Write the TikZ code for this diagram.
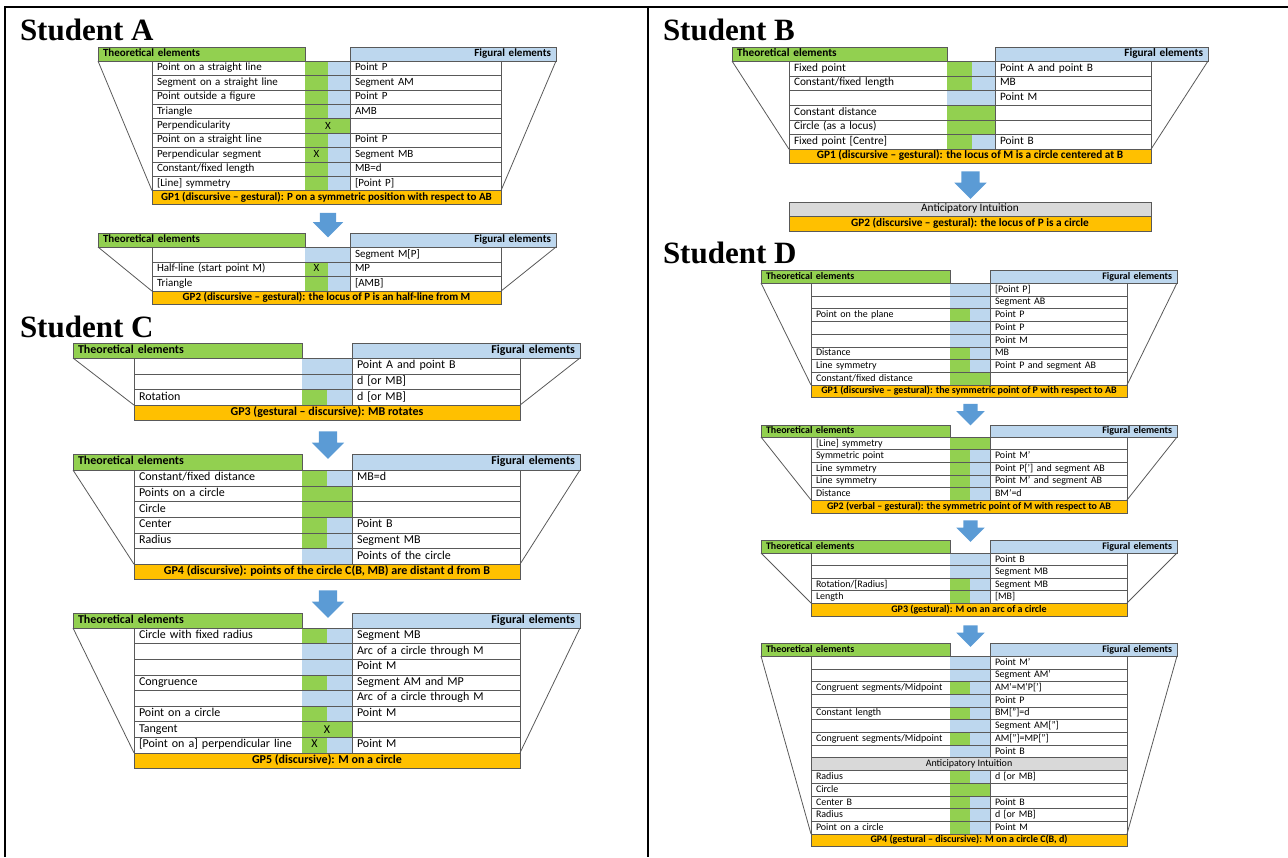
\documentclass[tikz,border=0pt]{standalone}
\usepackage{fontspec}
\setmainfont{Carlito}
\newfontfamily\titlefont{Liberation Serif}
\usetikzlibrary{positioning,shapes.arrows}
\definecolor{grn}{HTML}{92D050}
\definecolor{blu}{HTML}{BDD7EE}
\definecolor{gporange}{HTML}{FFC000}
\definecolor{aigray}{HTML}{D9D9D9}
\definecolor{arrowblue}{HTML}{5B9BD5}
\definecolor{cellline}{HTML}{595959}

\begin{document}
\begin{tikzpicture}[x=1pt, y=-1pt, outer sep=0pt, node distance=0pt,
    title/.style={anchor=base west, inner sep=0pt, font=\titlefont\fontsize{31}{34}\selectfont\bfseries},
    cell/.style={draw=cellline, fill=white, inner xsep=5pt, inner ysep=0pt, text width=#1pt, align=left, text height=8pt, text depth=2.5pt},
    half/.style={draw=none, fill=#1, inner sep=0pt, text height=8pt, text depth=2.5pt},
    thhead/.style={draw=cellline, fill=grn, anchor=north west, inner xsep=5pt, inner ysep=0pt, text width=#1pt, align=left, text height=8pt, text depth=2.5pt, execute at begin node=\bfseries},
    fghead/.style={draw=cellline, fill=blu, anchor=north east, inner xsep=5pt, inner ysep=0pt, text width=#1pt, align=right, text height=8pt, text depth=2.5pt, execute at begin node=\bfseries},
    gpbar/.style={draw=cellline, fill=gporange, anchor=north west, inner sep=0pt, minimum width=#1pt, text height=8pt, text depth=2.5pt, execute at begin node=\bfseries},
    intuition/.style={draw=cellline, fill=aigray, anchor=north west, inner sep=0pt, minimum width=#1pt, text height=8pt, text depth=2.5pt},
    downarrow/.style={single arrow, shape border rotate=270, draw=none, fill=arrowblue, single arrow head extend=7pt, minimum height=#1pt},
    rowline/.style={draw=cellline},
    trapline/.style={draw=cellline, line width=0.8pt},
    frame/.style={line width=2pt}]
  \useasboundingbox (0,0) rectangle (1288,857);
  % outer frame of the table
  \draw[frame] (1288,7) -- (5,7) -- (5,857);
  \draw[frame] (648,7) -- (648,857);

  % Student A
  \node[title] (tita) at (20,40) {Student A};
  \begin{scope}[font=\fontsize{11}{13}\selectfont]
  \begin{scope}[minimum height=14.4pt]
    \node[thhead=197, minimum height=14pt] (a1th) at (98,47) {Theoretical elements};
    \node[fghead=196, minimum height=14pt] (a1fh) at (556,47) {Figural elements};
    \foreach \tht/\cla/\clb/\fgt/\xmk [count=\i] in {
        Point on a straight line/grn/blu/Point P/0,
        Segment on a straight line/grn/blu/Segment AM/0,
        Point outside a figure/grn/blu/Point P/0,
        Triangle/grn/blu/AMB/0,
        Perpendicularity/grn/grn//2,
        Point on a straight line/grn/blu/Point P/0,
        Perpendicular segment/grn/blu/Segment MB/1,
        {Constant/fixed length}/grn/blu/MB=d/0,
        [Line] symmetry/grn/blu/[Point P]/0}{
      \node[cell=143, anchor=north west] (a1t\i) at (152,{61+14.4*(\i-1)}) {\tht};
      \node[half=\cla, minimum width=23pt, right=of a1t\i] (a1g\i) {\ifnum\xmk=1 X\fi};
      \node[half=\clb, minimum width=22pt, right=of a1g\i] (a1b\i) {};
      \node[cell=141, right=of a1b\i] (a1f\i) {\fgt};
      \draw[rowline] (a1t\i.north east) -- (a1f\i.north west);
      \ifnum\xmk=2 \node (a1x\i) at (a1g\i.east) {X};\fi
    }
    \node[gpbar=349, minimum height=13.6pt] (a1gp) at (a1t9.south west) {GP1 (discursive – gestural): P on a symmetric position with respect to AB};
    \draw[trapline] (a1th.south west) -- (a1t9.south west);
    \draw[trapline] (a1fh.south east) -- (a1f9.south east);
  \end{scope}
  \node[downarrow=22, inner sep=8pt] (a1ar) at (328,221) {};
  \begin{scope}[minimum height=14.7pt]
    \node[thhead=197, minimum height=14pt] (a2th) at (98,233) {Theoretical elements};
    \node[fghead=196, minimum height=14pt] (a2fh) at (556,233) {Figural elements};
    \foreach \tht/\cla/\clb/\fgt/\xmk [count=\i] in {
        /blu/blu/Segment M[P]/0,
        Half-line (start point M)/grn/blu/MP/1,
        Triangle/grn/blu/[AMB]/0}{
      \node[cell=143, anchor=north west] (a2t\i) at (152,{247+14.7*(\i-1)}) {\tht};
      \node[half=\cla, minimum width=23pt, right=of a2t\i] (a2g\i) {\ifnum\xmk=1 X\fi};
      \node[half=\clb, minimum width=22pt, right=of a2g\i] (a2b\i) {};
      \node[cell=141, right=of a2b\i] (a2f\i) {\fgt};
      \draw[rowline] (a2t\i.north east) -- (a2f\i.north west);
    }
    \node[gpbar=349, minimum height=13pt] (a2gp) at (a2t3.south west) {GP2 (discursive – gestural): the locus of P is an half-line from M};
    \draw[trapline] (a2th.south west) -- (a2t3.south west);
    \draw[trapline] (a2fh.south east) -- (a2f3.south east);
  \end{scope}
  \end{scope}

  % Student C
  \node[title] (titc) at (20,337) {Student C};
  \begin{scope}[font=\fontsize{12}{14}\selectfont]
  \begin{scope}[minimum height=15.7pt]
    \node[thhead=219, minimum height=15pt] (c1th) at (73,343) {Theoretical elements};
    \node[fghead=218, minimum height=15pt] (c1fh) at (580,343) {Figural elements};
    \foreach \tht/\cla/\clb/\fgt/\xmk [count=\i] in {
        /blu/blu/Point A and point B/0,
        /blu/blu/d [or MB]/0,
        Rotation/grn/blu/d [or MB]/0}{
      \node[cell=158, anchor=north west] (c1t\i) at (134,{358+15.7*(\i-1)}) {\tht};
      \node[half=\cla, minimum width=25pt, right=of c1t\i] (c1g\i) {};
      \node[half=\clb, minimum width=25pt, right=of c1g\i] (c1b\i) {};
      \node[cell=158, right=of c1b\i] (c1f\i) {\fgt};
      \draw[rowline] (c1t\i.north east) -- (c1f\i.north west);
    }
    \node[gpbar=386, minimum height=15pt] (c1gp) at (c1t3.south west) {GP3 (gestural – discursive): MB rotates};
    \draw[trapline] (c1th.south west) -- (c1t3.south west);
    \draw[trapline] (c1fh.south east) -- (c1f3.south east);
  \end{scope}
  \node[downarrow=25, inner sep=9pt] (c1ar) at (328,440.5) {};
  \begin{scope}[minimum height=15.7pt]
    \node[thhead=219, minimum height=16pt] (c2th) at (73,454) {Theoretical elements};
    \node[fghead=218, minimum height=16pt] (c2fh) at (580,454) {Figural elements};
    \foreach \tht/\cla/\clb/\fgt/\xmk [count=\i] in {
        {Constant/fixed distance}/grn/blu/MB=d/0,
        Points on a circle/grn/grn//0,
        Circle/grn/grn//0,
        Center/grn/blu/Point B/0,
        Radius/grn/blu/Segment MB/0,
        /blu/blu/Points of the circle/0}{
      \node[cell=158, anchor=north west] (c2t\i) at (134,{470+15.7*(\i-1)}) {\tht};
      \node[half=\cla, minimum width=25pt, right=of c2t\i] (c2g\i) {};
      \node[half=\clb, minimum width=25pt, right=of c2g\i] (c2b\i) {};
      \node[cell=158, right=of c2b\i] (c2f\i) {\fgt};
      \draw[rowline] (c2t\i.north east) -- (c2f\i.north west);
    }
    \node[gpbar=386, minimum height=15pt] (c2gp) at (c2t6.south west) {GP4 (discursive): points of the circle C(B, MB) are distant d from B};
    \draw[trapline] (c2th.south west) -- (c2t6.south west);
    \draw[trapline] (c2fh.south east) -- (c2f6.south east);
  \end{scope}
  \node[downarrow=25, inner sep=9pt] (c2ar) at (328,599.5) {};
  \begin{scope}[minimum height=15.6pt]
    \node[thhead=219, minimum height=15pt] (c3th) at (73,613) {Theoretical elements};
    \node[fghead=218, minimum height=15pt] (c3fh) at (580,613) {Figural elements};
    \foreach \tht/\cla/\clb/\fgt/\xmk [count=\i] in {
        Circle with fixed radius/grn/blu/Segment MB/0,
        /blu/blu/Arc of a circle through M/0,
        /blu/blu/Point M/0,
        Congruence/grn/blu/Segment AM and MP/0,
        /blu/blu/Arc of a circle through M/0,
        Point on a circle/grn/blu/Point M/0,
        Tangent/grn/grn//2,
        [Point on a] perpendicular line/grn/blu/Point M/1}{
      \node[cell=158, anchor=north west] (c3t\i) at (134,{628+15.6*(\i-1)}) {\tht};
      \node[half=\cla, minimum width=25pt, right=of c3t\i] (c3g\i) {\ifnum\xmk=1 X\fi};
      \node[half=\clb, minimum width=25pt, right=of c3g\i] (c3b\i) {};
      \node[cell=158, right=of c3b\i] (c3f\i) {\fgt};
      \draw[rowline] (c3t\i.north east) -- (c3f\i.north west);
      \ifnum\xmk=2 \node (c3x\i) at (c3g\i.east) {X};\fi
    }
    \node[gpbar=386, minimum height=15pt] (c3gp) at (c3t8.south west) {GP5 (discursive): M on a circle};
    \draw[trapline] (c3th.south west) -- (c3t8.south west);
    \draw[trapline] (c3fh.south east) -- (c3f8.south east);
  \end{scope}
  \end{scope}

  % Student B
  \node[title] (titb) at (663,40) {Student B};
  \begin{scope}[font=\fontsize{11.3}{13}\selectfont]
  \begin{scope}[minimum height=14.7pt]
    \node[thhead=205, minimum height=14pt] (b1th) at (732,47) {Theoretical elements};
    \node[fghead=203, minimum height=14pt] (b1fh) at (1208,47) {Figural elements};
    \foreach \tht/\cla/\clb/\fgt/\xmk [count=\i] in {
        Fixed point/grn/blu/Point A and point B/0,
        {Constant/fixed length}/grn/blu/MB/0,
        /blu/blu/Point M/0,
        Constant distance/grn/grn//0,
        Circle (as a locus)/grn/grn//0,
        Fixed point [Centre]/grn/blu/Point B/0}{
      \node[cell=148, anchor=north west] (b1t\i) at (789,{61+14.7*(\i-1)}) {\tht};
      \node[half=\cla, minimum width=25pt, right=of b1t\i] (b1g\i) {};
      \node[half=\clb, minimum width=23pt, right=of b1g\i] (b1b\i) {};
      \node[cell=146, right=of b1b\i] (b1f\i) {\fgt};
      \draw[rowline] (b1t\i.north east) -- (b1f\i.north west);
    }
    \node[gpbar=362, minimum height=14pt] (b1gp) at (b1t6.south west) {GP1 (discursive – gestural): the locus of M is a circle centered at B};
    \draw[trapline] (b1th.south west) -- (b1t6.south west);
    \draw[trapline] (b1fh.south east) -- (b1f6.south east);
  \end{scope}
  \node[downarrow=25, inner sep=9pt] (b1ar) at (970.5,180.5) {};
  \node[intuition=362, minimum height=14pt] (b2ai) at (789,202) {Anticipatory Intuition};
  \node[gpbar=362, minimum height=15pt] (b2gp) at (b2ai.south west) {GP2 (discursive – gestural): the locus of P is a circle};
  \end{scope}

  % Student D
  \node[title] (titd) at (663,263) {Student D};
  \begin{scope}[font=\fontsize{10}{12}\selectfont]
  \begin{scope}[minimum height=12.75pt]
    \node[thhead=179, minimum height=13pt] (d1th) at (761,270) {Theoretical elements};
    \node[fghead=177, minimum height=13pt] (d1fh) at (1177,270) {Figural elements};
    \foreach \tht/\cla/\clb/\fgt/\xmk [count=\i] in {
        /blu/blu/[Point P]/0,
        /blu/blu/Segment AB/0,
        Point on the plane/grn/blu/Point P/0,
        /blu/blu/Point P/0,
        /blu/blu/Point M/0,
        Distance/grn/blu/MB/0,
        Line symmetry/grn/blu/Point P and segment AB/0,
        {Constant/fixed distance}/grn/grn//0}{
      \node[cell=129, anchor=north west] (d1t\i) at (811,{283+12.75*(\i-1)}) {\tht};
      \node[half=\cla, minimum width=20pt, right=of d1t\i] (d1g\i) {};
      \node[half=\clb, minimum width=20pt, right=of d1g\i] (d1b\i) {};
      \node[cell=127, right=of d1b\i] (d1f\i) {\fgt};
      \draw[rowline] (d1t\i.north east) -- (d1f\i.north west);
    }
    \node[gpbar=316, minimum height=12pt] (d1gp) at (d1t8.south west) {GP1 (discursive – gestural): the symmetric point of P with respect to AB};
    \draw[trapline] (d1th.south west) -- (d1t8.south west);
    \draw[trapline] (d1fh.south east) -- (d1f8.south east);
  \end{scope}
  \node[downarrow=19, inner sep=7pt] (d1ar) at (970.5,411) {};
  \begin{scope}[minimum height=12.6pt]
    \node[thhead=179, minimum height=12pt] (d2th) at (761,425) {Theoretical elements};
    \node[fghead=177, minimum height=12pt] (d2fh) at (1177,425) {Figural elements};
    \foreach \tht/\cla/\clb/\fgt/\xmk [count=\i] in {
        [Line] symmetry/grn/grn//0,
        Symmetric point/grn/blu/Point M’/0,
        Line symmetry/grn/blu/Point P[’] and segment AB/0,
        Line symmetry/grn/blu/Point M’ and segment AB/0,
        Distance/grn/blu/BM’=d/0}{
      \node[cell=129, anchor=north west] (d2t\i) at (811,{437+12.6*(\i-1)}) {\tht};
      \node[half=\cla, minimum width=20pt, right=of d2t\i] (d2g\i) {};
      \node[half=\clb, minimum width=20pt, right=of d2g\i] (d2b\i) {};
      \node[cell=127, right=of d2b\i] (d2f\i) {\fgt};
      \draw[rowline] (d2t\i.north east) -- (d2f\i.north west);
    }
    \node[gpbar=316, minimum height=13pt] (d2gp) at (d2t5.south west) {GP2 (verbal – gestural): the symmetric point of M with respect to AB};
    \draw[trapline] (d2th.south west) -- (d2t5.south west);
    \draw[trapline] (d2fh.south east) -- (d2f5.south east);
  \end{scope}
  \node[downarrow=21, inner sep=7pt] (d2ar) at (970.5,527.5) {};
  \begin{scope}[minimum height=12.5pt]
    \node[thhead=179, minimum height=13pt] (d3th) at (761,540) {Theoretical elements};
    \node[fghead=177, minimum height=13pt] (d3fh) at (1177,540) {Figural elements};
    \foreach \tht/\cla/\clb/\fgt/\xmk [count=\i] in {
        /blu/blu/Point B/0,
        /blu/blu/Segment MB/0,
        {Rotation/[Radius]}/grn/blu/Segment MB/0,
        Length/grn/blu/[MB]/0}{
      \node[cell=129, anchor=north west] (d3t\i) at (811,{553+12.5*(\i-1)}) {\tht};
      \node[half=\cla, minimum width=20pt, right=of d3t\i] (d3g\i) {};
      \node[half=\clb, minimum width=20pt, right=of d3g\i] (d3b\i) {};
      \node[cell=127, right=of d3b\i] (d3f\i) {\fgt};
      \draw[rowline] (d3t\i.north east) -- (d3f\i.north west);
    }
    \node[gpbar=316, minimum height=13pt] (d3gp) at (d3t4.south west) {GP3 (gestural): M on an arc of a circle};
    \draw[trapline] (d3th.south west) -- (d3t4.south west);
    \draw[trapline] (d3fh.south east) -- (d3f4.south east);
  \end{scope}
  \node[downarrow=21, inner sep=7pt] (d3ar) at (970.5,632.5) {};
  \begin{scope}[minimum height=12.7pt]
    \node[thhead=179, minimum height=13pt] (d4th) at (761,643) {Theoretical elements};
    \node[fghead=177, minimum height=13pt] (d4fh) at (1177,643) {Figural elements};
    \foreach \tht/\cla/\clb/\fgt/\xmk [count=\i] in {
        /blu/blu/Point M’/0,
        /blu/blu/Segment AM’/0,
        {Congruent segments/Midpoint}/grn/blu/AM’=M’P[’]/0,
        /blu/blu/Point P/0,
        Constant length/grn/blu/BM[”]=d/0,
        /blu/blu/Segment AM[”]/0,
        {Congruent segments/Midpoint}/grn/blu/AM[”]=MP[”]/0,
        /blu/blu/Point B/0}{
      \node[cell=129, anchor=north west] (d4t\i) at (811,{656+12.7*(\i-1)}) {\tht};
      \node[half=\cla, minimum width=20pt, right=of d4t\i] (d4g\i) {};
      \node[half=\clb, minimum width=20pt, right=of d4g\i] (d4b\i) {};
      \node[cell=127, right=of d4b\i] (d4f\i) {\fgt};
      \draw[rowline] (d4t\i.north east) -- (d4f\i.north west);
    }
    \node[intuition=316, minimum height=13pt] (d4ai) at (d4t8.south west) {Anticipatory Intuition};
    \foreach \tht/\cla/\clb/\fgt/\xmk [count=\i from 9] in {
        Radius/grn/blu/d [or MB]/0,
        Circle/grn/grn//0,
        Center B/grn/blu/Point B/0,
        Radius/grn/blu/d [or MB]/0,
        Point on a circle/grn/blu/Point M/0}{
      \node[cell=129, anchor=north west] (d4t\i) at (811,{770.6+12.66*(\i-9)}) {\tht};
      \node[half=\cla, minimum width=20pt, right=of d4t\i] (d4g\i) {};
      \node[half=\clb, minimum width=20pt, right=of d4g\i] (d4b\i) {};
      \node[cell=127, right=of d4b\i] (d4f\i) {\fgt};
      \draw[rowline] (d4t\i.north east) -- (d4f\i.north west);
    }
    \node[gpbar=316, minimum height=12pt] (d4gp) at (d4t13.south west) {GP4 (gestural – discursive): M on a circle C(B, d)};
    \draw[trapline] (d4th.south west) -- (d4t13.south west);
    \draw[trapline] (d4fh.south east) -- (d4f13.south east);
  \end{scope}
  \end{scope}
\end{tikzpicture}
\end{document}
